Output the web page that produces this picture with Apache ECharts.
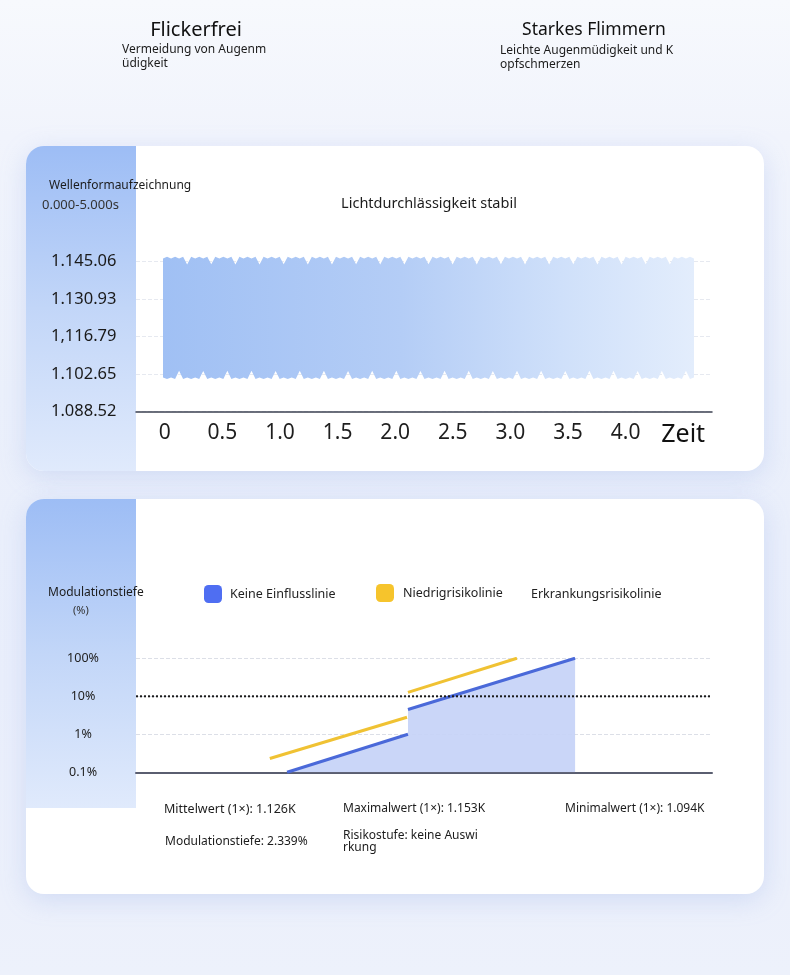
<!DOCTYPE html>
<html>
<head>
<meta charset="utf-8">
<script src="https://cdn.jsdelivr.net/npm/echarts@6/dist/echarts.min.js"></script>
<style>
html,body{margin:0;padding:0;width:790px;height:975px;overflow:hidden;}
body{background:linear-gradient(180deg,#f7f9fd 0%,#f1f4fc 14%,#ebf0fb 40%,#e9eefb 70%,#edf1fb 100%);position:relative;}
.card{position:absolute;left:26px;width:738px;background:#fff;border-radius:18px;box-shadow:0 6px 26px rgba(140,165,230,0.28);overflow:hidden;}
.strip{position:absolute;left:0;top:0;width:110px;background:linear-gradient(180deg,#9dbdf5 0%,#c2d6f8 50%,#e0eafc 100%);}
#chart{position:absolute;left:0;top:0;width:790px;height:975px;}
</style>
</head>
<body>
<div class="card" style="top:146px;height:325px"><div class="strip" style="height:325px"></div></div>
<div class="card" style="top:499px;height:395px"><div class="strip" style="height:309px"></div></div>
<div id="chart"></div>
<script>
// ---------- texts ----------
const headerTitles = ['Flickerfrei', 'Starkes Flimmern'];
const headerNotes = ['Vermeidung von Augenm\nüdigkeit', 'Leichte Augenmüdigkeit und K\nopfschmerzen'];
const waveTitle = 'Wellenformaufzeichnung';
const waveRange = '0.000-5.000s';
const waveStatus = 'Lichtdurchlässigkeit stabil';
const modAxisTitle = 'Modulationstiefe';
const modAxisUnit = '(%)';
const statTexts = ['Mittelwert (1×): 1.126K', 'Maximalwert (1×): 1.153K', 'Minimalwert (1×): 1.094K',
                   'Modulationstiefe: 2.339%', 'Risikostufe: keine Auswi\nrkung'];

// ---------- waveform chart ----------
const timeLabels = ['0', '0.5', '1.0', '1.5', '2.0', '2.5', '3.0', '3.5', '4.0', 'Zeit'];
const levelLabels = ['1.088.52', '1.102.65', '1,116.79', '1.130.93', '1.145.06'];
const waveTop = [
  1146.3, 1146.9, 1146.3, 1146.9, 1146.3, 1146.9,
  1144.0, 1146.9, 1146.3, 1146.9, 1146.3, 1146.9,
  1144.1, 1146.9, 1146.3, 1146.9, 1146.3, 1146.9,
  1144.0, 1146.9, 1146.3, 1146.9, 1146.3, 1146.9,
  1144.0, 1146.9, 1146.3, 1146.9, 1146.3, 1146.9,
  1144.1, 1146.9, 1146.3, 1146.9, 1146.3, 1146.9,
  1144.0, 1146.9, 1146.3, 1146.9, 1146.3, 1146.9,
  1144.0, 1146.9, 1146.3, 1146.9, 1146.3, 1146.9,
  1144.1, 1146.9, 1146.3, 1146.9, 1146.3, 1146.9,
  1144.0, 1146.9, 1146.3, 1146.9, 1146.3, 1146.9,
  1144.0, 1146.9, 1146.3, 1146.9, 1146.3, 1146.9,
  1144.1, 1146.9, 1146.3, 1146.9, 1146.3, 1146.9,
  1144.0, 1146.9, 1146.3, 1146.9, 1146.3, 1146.9,
  1144.0, 1146.9, 1146.3, 1146.9, 1146.3, 1146.9,
  1144.1, 1146.9, 1146.3, 1146.9, 1146.3, 1146.9,
  1144.0, 1146.9, 1146.3, 1146.9, 1146.3, 1146.9,
  1144.0, 1146.9, 1146.3, 1146.9, 1146.3, 1146.9,
  1144.1, 1146.9, 1146.3, 1146.9, 1146.3, 1146.9,
  1144.0, 1146.9, 1146.3, 1146.9, 1146.3, 1146.9,
  1144.0, 1146.9, 1146.3, 1146.9, 1146.3, 1146.9,
  1144.1, 1146.9, 1146.3, 1146.9, 1146.3, 1146.9,
  1144.0, 1146.9, 1146.3, 1146.9, 1146.3, 1146.9,
  1146.3
];
const waveBottom = [
  1101.4, 1100.8, 1101.4, 1100.8, 1104.0, 1100.8,
  1101.4, 1100.8, 1101.4, 1100.8, 1103.9, 1100.8,
  1101.4, 1100.8, 1101.4, 1100.8, 1104.0, 1100.8,
  1101.4, 1100.8, 1101.4, 1100.8, 1104.0, 1100.8,
  1101.4, 1100.8, 1101.4, 1100.8, 1103.9, 1100.8,
  1101.4, 1100.8, 1101.4, 1100.8, 1104.0, 1100.8,
  1101.4, 1100.8, 1101.4, 1100.8, 1104.0, 1100.8,
  1101.4, 1100.8, 1101.4, 1100.8, 1103.9, 1100.8,
  1101.4, 1100.8, 1101.4, 1100.8, 1104.0, 1100.8,
  1101.4, 1100.8, 1101.4, 1100.8, 1104.0, 1100.8,
  1101.4, 1100.8, 1101.4, 1100.8, 1103.9, 1100.8,
  1101.4, 1100.8, 1101.4, 1100.8, 1104.0, 1100.8,
  1101.4, 1100.8, 1101.4, 1100.8, 1104.0, 1100.8,
  1101.4, 1100.8, 1101.4, 1100.8, 1103.9, 1100.8,
  1101.4, 1100.8, 1101.4, 1100.8, 1104.0, 1100.8,
  1101.4, 1100.8, 1101.4, 1100.8, 1104.0, 1100.8,
  1101.4, 1100.8, 1101.4, 1100.8, 1103.9, 1100.8,
  1101.4, 1100.8, 1101.4, 1100.8, 1104.0, 1100.8,
  1101.4, 1100.8, 1101.4, 1100.8, 1104.0, 1100.8,
  1101.4, 1100.8, 1101.4, 1100.8, 1103.9, 1100.8,
  1101.4, 1100.8, 1101.4, 1100.8, 1104.0, 1100.8,
  1101.4, 1100.8, 1101.4, 1100.8, 1104.0, 1100.8,
  1101.4
];
const sampleIndex = waveTop.map((v, i) => String(i));

// ---------- modulation chart (frequency Hz, modulation %) ----------
const seriesNames = ['Keine Einflusslinie', 'Niedrigrisikolinie', 'Erkrankungsrisikolinie'];
const modLabels = ['0.1%', '1%', '10%', '100%'];
const noEffectLow = [[11.2, 0.1], [77.4, 1.0]];
const noEffectHigh = [[77.4, 4.5], [1120, 100]];
const lowRiskLow = [[8.5, 0.23], [76.2, 2.8]];
const lowRiskHigh = [[77.4, 12.7], [442, 100]];
const diseaseRisk = [[1, 10], [10000, 10]];

const FONT = 'Noto Sans';
const LVL_MIN = 1088.52, LVL_MAX = 1145.06, LVL_STEP = 14.135;

const chart = echarts.init(document.getElementById('chart'));

function txt(text, x, y, size, opts) {
  return {
    type: 'text', x: x, y: y, z: 100, silent: true,
    style: Object.assign({ text: text, fontSize: size, fontFamily: FONT, fill: '#1c1c1c',
      align: 'left', verticalAlign: 'middle' }, opts || {})
  };
}

const option = {
  animation: false,
  textStyle: { fontFamily: FONT },
  grid: [
    { left: 136, top: 261.7, width: 576, height: 150 },
    { left: 136, top: 658.3, width: 576, height: 114 },
    { left: 163, top: 261.7, width: 531, height: 150 }
  ],
  xAxis: [
    { gridIndex: 0, type: 'category', data: timeLabels, boundaryGap: true,
      axisLine: { lineStyle: { color: '#3c4152', width: 1.5 } },
      axisTick: { show: false },
      axisLabel: { interval: 0, fontSize: 21, color: '#1e1e1e', margin: 11,
        formatter: v => v === timeLabels[timeLabels.length - 1] ? '{z|' + v + '}' : v,
        rich: { z: { fontSize: 25, color: '#111', fontFamily: FONT } } },
      splitLine: { show: false } },
    { gridIndex: 1, type: 'log', logBase: 10, min: 1, max: 10000,
      axisLine: { lineStyle: { color: '#5a5e70', width: 2 } },
      axisTick: { show: false }, axisLabel: { show: false }, splitLine: { show: false } },
    { gridIndex: 2, type: 'category', data: sampleIndex, boundaryGap: false, show: false }
  ],
  yAxis: [
    { gridIndex: 0, type: 'value', min: LVL_MIN, max: LVL_MAX, interval: LVL_STEP,
      axisLine: { show: false }, axisTick: { show: false },
      axisLabel: { align: 'left', margin: 85, fontSize: 16.5, color: '#1a1a1a', padding: [0, 0, 5, 0],
        formatter: v => levelLabels[Math.round((v - LVL_MIN) / LVL_STEP)] || '' },
      splitLine: { lineStyle: { type: 'dashed', color: '#e6e9f0' } } },
    { gridIndex: 1, type: 'log', logBase: 10, min: 0.1, max: 100,
      axisLine: { show: false }, axisTick: { show: false },
      axisLabel: { align: 'center', margin: 53, fontSize: 12.5, color: '#222', padding: [0, 0, 5, 0],
        formatter: v => modLabels[Math.round(Math.log10(v)) + 1] || '' },
      splitLine: { lineStyle: { type: 'dashed', color: '#dcdfe7' } } },
    { gridIndex: 2, type: 'value', min: LVL_MIN, max: LVL_MAX, interval: LVL_STEP, show: false }
  ],
  legend: [
    { data: [{ name: seriesNames[0], itemStyle: { color: '#4f6ef2' } }], left: 204, top: 585, padding: 0,
      icon: 'roundRect', itemWidth: 18, itemHeight: 18, selectedMode: false,
      textStyle: { fontSize: 12.5, color: '#222', fontFamily: FONT, padding: [0, 0, 0, 3] } },
    { data: [{ name: seriesNames[1], itemStyle: { color: '#f6c42c' } }], left: 376, top: 584, padding: 0,
      icon: 'roundRect', itemWidth: 18, itemHeight: 18, selectedMode: false,
      textStyle: { fontSize: 12.5, color: '#222', fontFamily: FONT, padding: [0, 0, 0, 4] } },
    { data: [{ name: seriesNames[2], icon: 'none' }], left: 508, top: 585, padding: 0,
      itemWidth: 18, itemHeight: 18, selectedMode: false,
      textStyle: { fontSize: 12.5, color: '#222', fontFamily: FONT } }
  ],
  series: [
    { type: 'line', xAxisIndex: 2, yAxisIndex: 2, stack: 'band', silent: true, clip: false,
      data: waveBottom, symbol: 'none', lineStyle: { width: 0 } },
    { type: 'line', xAxisIndex: 2, yAxisIndex: 2, stack: 'band', silent: true, clip: false,
      data: waveTop.map((v, i) => +(v - waveBottom[i]).toFixed(2)), symbol: 'none', lineStyle: { width: 0 },
      areaStyle: { opacity: 1, color: new echarts.graphic.LinearGradient(0, 0, 1, 0, [
        { offset: 0, color: '#a0c0f4' }, { offset: 0.45, color: '#b4cdf6' },
        { offset: 0.75, color: '#cfe0fa' }, { offset: 1, color: '#e3edfc' }]) } },

    { name: seriesNames[0], type: 'line', xAxisIndex: 1, yAxisIndex: 1, silent: true,
      data: noEffectLow.concat(noEffectHigh), symbol: 'none', lineStyle: { width: 0 },
      itemStyle: { color: '#4a69d9' },
      areaStyle: { color: '#c6d2f7', opacity: 0.92, origin: 'start' }, z: 2 },
    { name: seriesNames[0], type: 'line', xAxisIndex: 1, yAxisIndex: 1, silent: true,
      data: noEffectLow, symbol: 'none', lineStyle: { color: '#4a69d9', width: 3 }, itemStyle: { color: '#4a69d9' }, z: 4 },
    { name: seriesNames[0], type: 'line', xAxisIndex: 1, yAxisIndex: 1, silent: true,
      data: noEffectHigh, symbol: 'none', lineStyle: { color: '#4a69d9', width: 3 }, itemStyle: { color: '#4a69d9' }, z: 4 },
    { name: seriesNames[1], type: 'line', xAxisIndex: 1, yAxisIndex: 1, silent: true,
      data: lowRiskLow, symbol: 'none', lineStyle: { color: '#f0c233', width: 3 }, itemStyle: { color: '#f0c233' }, z: 4 },
    { name: seriesNames[1], type: 'line', xAxisIndex: 1, yAxisIndex: 1, silent: true,
      data: lowRiskHigh, symbol: 'none', lineStyle: { color: '#f0c233', width: 3 }, itemStyle: { color: '#f0c233' }, z: 4 },
    { name: seriesNames[2], type: 'line', xAxisIndex: 1, yAxisIndex: 1, silent: true,
      data: diseaseRisk, symbol: 'none', lineStyle: { color: '#1a1a1a', width: 2, type: 'dotted' },
      itemStyle: { color: '#1a1a1a' }, z: 5 }
  ],
  graphic: [
    txt(headerTitles[0], 196, 30, 20, { align: 'center', fill: '#111' }),
    txt(headerNotes[0], 122, 43, 12, { verticalAlign: 'top', lineHeight: 14 }),
    txt(headerTitles[1], 594, 30, 17.5, { align: 'center', fill: '#111' }),
    txt(headerNotes[1], 500, 44, 12, { verticalAlign: 'top', lineHeight: 14 }),
    txt(waveTitle, 49, 186, 12),
    txt(waveRange, 42, 205, 13, { fill: '#333' }),
    txt(waveStatus, 429, 204, 14.5, { align: 'center' }),
    txt(modAxisTitle, 48, 593, 12),
    txt(modAxisUnit, 73, 611, 11, { fill: '#333' }),
    txt(statTexts[0], 164, 809, 12.5),
    txt(statTexts[1], 343, 809, 12),
    txt(statTexts[2], 565, 809, 12),
    txt(statTexts[3], 165, 842, 12),
    txt(statTexts[4], 343, 830, 12, { verticalAlign: 'top', lineHeight: 12 })
  ]
};
chart.setOption(option);
</script>
</body>
</html>
